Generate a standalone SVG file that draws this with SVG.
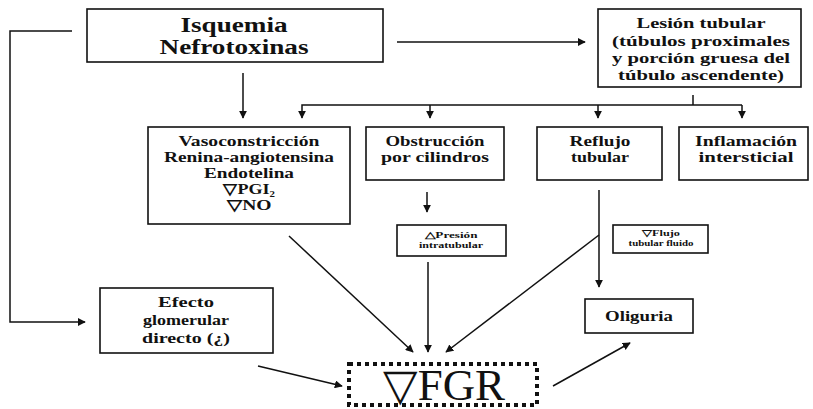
<svg xmlns="http://www.w3.org/2000/svg" width="813" height="409" viewBox="0 0 813 409">
<defs>
<marker id="ah" viewBox="0 0 10 10" refX="9" refY="5" markerWidth="8" markerHeight="8" markerUnits="userSpaceOnUse" orient="auto">
<path d="M0,0 L10,5 L0,10 z" fill="#111"/>
</marker>
<style>
.box{fill:#fff;stroke:#111;stroke-width:1.6}
.t{font-family:"Liberation Serif","Times New Roman",serif;font-weight:bold;fill:#111;text-anchor:middle}
.ln{fill:none;stroke:#111;stroke-width:1.5}
.ar{fill:none;stroke:#111;stroke-width:1.5;marker-end:url(#ah)}
</style>
</defs>
<rect width="813" height="409" fill="#fff"/>

<g id="connectors">
<polyline class="ar" points="72,31 10,31 10,322 85,322"/>
<line class="ar" x1="397" y1="42" x2="585" y2="42"/>
<line class="ar" x1="243" y1="73" x2="243" y2="118"/>
<line class="ln" x1="693" y1="95" x2="693" y2="105"/>
<polyline class="ar" points="742,105 302,105 302,118"/>
<line class="ar" x1="430" y1="105" x2="430" y2="118"/>
<line class="ar" x1="598" y1="105" x2="598" y2="118"/>
<line class="ar" x1="742" y1="105" x2="742" y2="118"/>
<line class="ar" x1="427" y1="192" x2="427" y2="212"/>
<line class="ar" x1="599" y1="190" x2="599" y2="287"/>
<line class="ar" x1="599" y1="235" x2="446" y2="352"/>
<line class="ar" x1="289" y1="236" x2="413" y2="352"/>
<line class="ar" x1="428" y1="262" x2="428" y2="352"/>
<line class="ar" x1="258" y1="366" x2="342" y2="386"/>
<line class="ar" x1="553" y1="386" x2="630" y2="343"/>
</g>

<g id="isquemia">
<rect class="box" x="87" y="9" width="296" height="53"/>
<text class="t" x="234" y="32" font-size="20" textLength="107" lengthAdjust="spacingAndGlyphs">Isquemia</text>
<text class="t" x="234" y="54" font-size="20" textLength="149" lengthAdjust="spacingAndGlyphs">Nefrotoxinas</text>
</g>

<g id="lesion">
<rect class="box" x="598" y="9" width="203" height="78"/>
<text class="t" x="701" y="28" font-size="15" textLength="129" lengthAdjust="spacingAndGlyphs">Lesión tubular</text>
<text class="t" x="701" y="46" font-size="15" textLength="178" lengthAdjust="spacingAndGlyphs">(túbulos proximales</text>
<text class="t" x="701" y="63" font-size="15" textLength="178" lengthAdjust="spacingAndGlyphs">y porción gruesa del</text>
<text class="t" x="701" y="80" font-size="15" textLength="166" lengthAdjust="spacingAndGlyphs">túbulo ascendente)</text>
</g>

<g id="vaso">
<rect class="box" x="148" y="127" width="202" height="97"/>
<text class="t" x="249" y="146" font-size="15" textLength="141" lengthAdjust="spacingAndGlyphs">Vasoconstricción</text>
<text class="t" x="249" y="162" font-size="15" textLength="170" lengthAdjust="spacingAndGlyphs">Renina-angiotensina</text>
<text class="t" x="249" y="178" font-size="15" textLength="90" lengthAdjust="spacingAndGlyphs">Endotelina</text>
<text class="t" x="249" y="194" font-size="15" textLength="52" lengthAdjust="spacingAndGlyphs">▽PGI₂</text>
<text class="t" x="249" y="210" font-size="15" textLength="45" lengthAdjust="spacingAndGlyphs">▽NO</text>
</g>

<g id="obstruccion">
<rect class="box" x="366" y="127" width="138" height="53"/>
<text class="t" x="435" y="146" font-size="15" textLength="99" lengthAdjust="spacingAndGlyphs">Obstrucción</text>
<text class="t" x="435" y="162" font-size="15" textLength="108" lengthAdjust="spacingAndGlyphs">por cilindros</text>
</g>

<g id="reflujo">
<rect class="box" x="537" y="127" width="125" height="53"/>
<text class="t" x="600" y="146" font-size="15" textLength="61" lengthAdjust="spacingAndGlyphs">Reflujo</text>
<text class="t" x="600" y="162" font-size="15" textLength="58" lengthAdjust="spacingAndGlyphs">tubular</text>
</g>

<g id="inflamacion">
<rect class="box" x="679" y="127" width="129" height="53"/>
<text class="t" x="746" y="146" font-size="15" textLength="102" lengthAdjust="spacingAndGlyphs">Inflamación</text>
<text class="t" x="746" y="162" font-size="15" textLength="95" lengthAdjust="spacingAndGlyphs">intersticial</text>
</g>

<g id="presion">
<rect class="box" x="397" y="225" width="109" height="31"/>
<text class="t" x="451" y="238" font-size="8.5" textLength="53" lengthAdjust="spacingAndGlyphs">△Presión</text>
<text class="t" x="451" y="248" font-size="8.5" textLength="64" lengthAdjust="spacingAndGlyphs">intratubular</text>
</g>

<g id="flujo">
<rect class="box" x="613" y="225" width="95" height="28"/>
<text class="t" x="661" y="236" font-size="8.5" textLength="38" lengthAdjust="spacingAndGlyphs">▽Flujo</text>
<text class="t" x="661" y="246" font-size="8.5" textLength="65" lengthAdjust="spacingAndGlyphs">tubular fluido</text>
</g>

<g id="oliguria">
<rect class="box" x="585" y="299" width="108" height="34"/>
<text class="t" x="639" y="321" font-size="15" textLength="68" lengthAdjust="spacingAndGlyphs">Oliguria</text>
</g>

<g id="efecto">
<rect class="box" x="100" y="288" width="173" height="65"/>
<text class="t" x="186" y="307" font-size="15" textLength="56" lengthAdjust="spacingAndGlyphs">Efecto</text>
<text class="t" x="186" y="325" font-size="15" textLength="86" lengthAdjust="spacingAndGlyphs">glomerular</text>
<text class="t" x="186" y="343" font-size="15" textLength="88" lengthAdjust="spacingAndGlyphs">directo (¿)</text>
</g>

<g id="fgr">
<rect x="349" y="364" width="188" height="41" fill="#fff" stroke="#111" stroke-width="4" stroke-dasharray="4,4"/>
<text x="444" y="400" font-family="Liberation Serif,'Times New Roman',serif" font-size="44" fill="#111" text-anchor="middle" textLength="122" lengthAdjust="spacingAndGlyphs">▽FGR</text>
</g>
</svg>
